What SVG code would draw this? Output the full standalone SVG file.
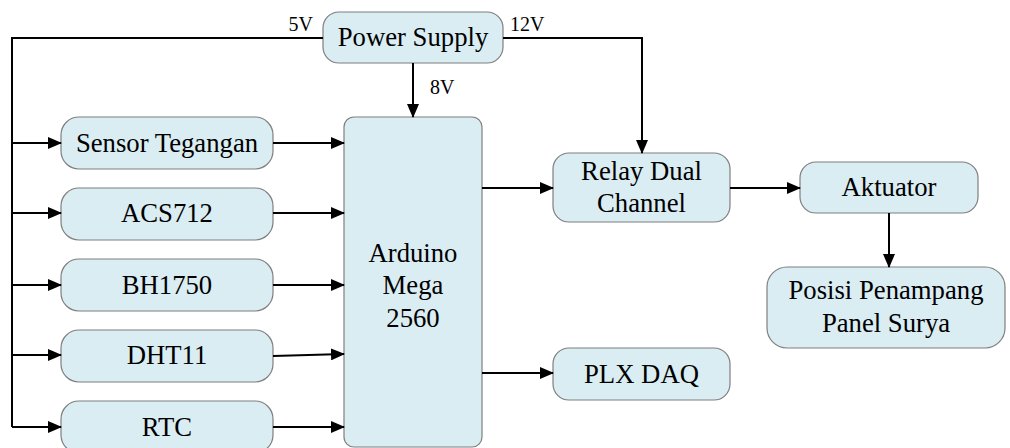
<svg xmlns="http://www.w3.org/2000/svg" width="1010" height="448" viewBox="0 0 1010 448" font-family="Liberation Serif">
<style>
.t{font-family:'Liberation Serif',serif;font-size:26.7px;fill:#000;text-anchor:middle}
.l{font-family:'Liberation Serif',serif;font-size:20px;fill:#000}
.box{fill:#daedf3;stroke:#7f7f7f;stroke-width:1.2}
.c{fill:none;stroke:#000;stroke-width:2}
.a{marker-end:url(#arr)}
</style>
<defs>
<marker id="arr" markerUnits="userSpaceOnUse" markerWidth="14" markerHeight="12" refX="13" refY="6" orient="auto">
<path d="M0,0 L14,6 L0,12 Z" fill="#000"/>
</marker>
</defs>
<rect width="1010" height="448" fill="#fff"/>
<g id="power-supply">
<rect class="box" x="323" y="12" width="180" height="51" rx="16"/>
<text class="t" x="413" y="46">Power Supply</text>
</g>
<g id="sensor-tegangan">
<rect class="box" x="61" y="117" width="212" height="52" rx="18"/>
<text class="t" x="167" y="152">Sensor Tegangan</text>
</g>
<g id="acs712">
<rect class="box" x="61" y="188" width="212" height="52" rx="18"/>
<text class="t" x="167" y="222">ACS712</text>
</g>
<g id="bh1750">
<rect class="box" x="61" y="259" width="212" height="52" rx="18"/>
<text class="t" x="167" y="294">BH1750</text>
</g>
<g id="dht11">
<rect class="box" x="61" y="330" width="212" height="52" rx="18"/>
<text class="t" x="167" y="364">DHT11</text>
</g>
<g id="rtc">
<rect class="box" x="61" y="401" width="212" height="52" rx="18"/>
<text class="t" x="167" y="436">RTC</text>
</g>
<g id="arduino">
<rect class="box" x="344" y="117" width="138" height="330" rx="10"/>
<text class="t" x="413" y="262">Arduino</text>
<text class="t" x="413" y="294">Mega</text>
<text class="t" x="413" y="327">2560</text>
</g>
<g id="relay">
<rect class="box" x="553" y="153" width="177" height="69" rx="16"/>
<text class="t" x="641.5" y="180">Relay Dual</text>
<text class="t" x="641.5" y="212">Channel</text>
</g>
<g id="aktuator">
<rect class="box" x="800" y="162" width="178" height="51" rx="16"/>
<text class="t" x="889" y="196">Aktuator</text>
</g>
<g id="posisi">
<rect class="box" x="767" y="267" width="238" height="81" rx="20"/>
<text class="t" x="886" y="299">Posisi Penampang</text>
<text class="t" x="886" y="332">Panel Surya</text>
</g>
<g id="plx-daq">
<rect class="box" x="553" y="348" width="177" height="52" rx="16"/>
<text class="t" x="641.5" y="383">PLX DAQ</text>
</g>
<g id="connectors">
<path class="c" d="M323,38 H12 V427"/>
<path class="c a" d="M12,143 H61"/>
<path class="c a" d="M12,213 H61"/>
<path class="c a" d="M12,285 H61"/>
<path class="c a" d="M12,355 H61"/>
<path class="c a" d="M12,427 H61"/>
<path class="c a" d="M413,63 V117"/>
<path class="c a" d="M503,38 H642 V153"/>
<path class="c a" d="M273,143 H344"/>
<path class="c a" d="M273,213 H344"/>
<path class="c a" d="M273,285 H344"/>
<path class="c a" d="M273,356 L344,354"/>
<path class="c a" d="M273,427 H344"/>
<path class="c a" d="M482,188 H553"/>
<path class="c a" d="M482,373 H553"/>
<path class="c a" d="M730,188 H800"/>
<path class="c a" d="M889,213 V267"/>
<text class="l" x="313" y="31" text-anchor="end">5V</text>
<text class="l" x="510" y="31">12V</text>
<text class="l" x="430" y="94">8V</text>
</g>
</svg>
